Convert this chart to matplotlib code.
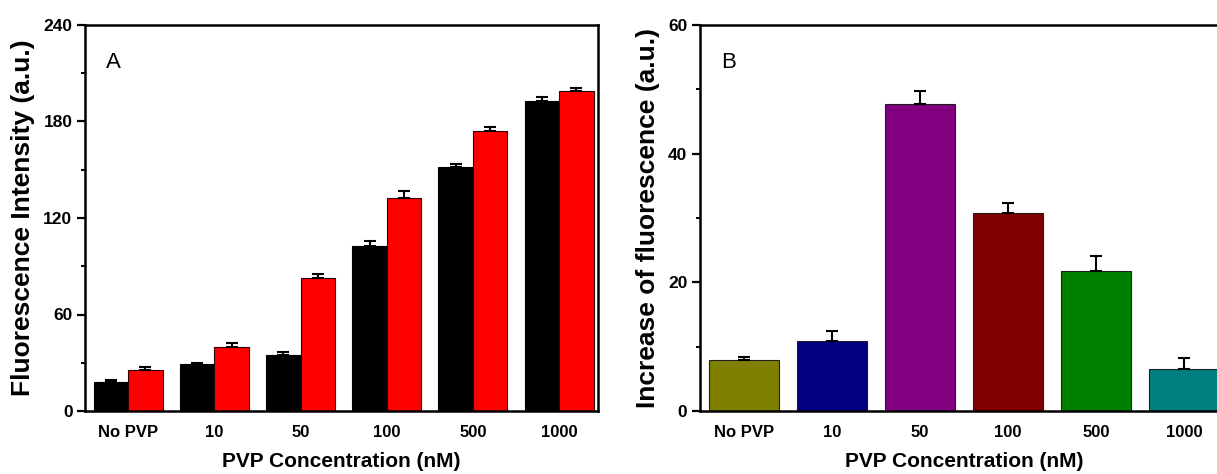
import numpy as np
import matplotlib.pyplot as plt
from matplotlib.ticker import MultipleLocator

plt.rcParams['font.family'] = ['Liberation Sans', 'DejaVu Sans']

# Data
categories = ['No PVP', '10', '50', '100', '500', '1000']

black_vals = [18, 29, 35, 102.5, 152, 192.5]
black_err = [1, 1, 1.5, 3.5, 1.5, 2.5]
red_vals = [25.5, 40, 82.5, 132.5, 174, 199]
red_err = [2, 2.3, 2.7, 4, 2.8, 2]

increase_vals = [7.9, 10.9, 47.7, 30.8, 21.8, 6.6]
increase_err = [0.5, 1.6, 2.0, 1.6, 2.3, 1.7]
increase_colors = ['#808000', '#000080', '#800080', '#800000', '#008000', '#008080']

W, H = 1217, 474
fig = plt.figure(figsize=(W / 100, H / 100), dpi=100)

def px_axes(left, right, top, bottom):
    return fig.add_axes([left / W, 1 - bottom / H, (right - left) / W, (bottom - top) / H])

def style(ax, xlabel, ylabel, letter):
    for s in ax.spines.values():
        s.set_linewidth(1.8)
    ax.tick_params(axis='y', which='major', direction='out', length=6, width=1.6, pad=3)
    ax.tick_params(axis='y', which='minor', direction='out', length=3, width=1.4)
    ax.tick_params(axis='x', length=0, pad=10)
    ax.set_xticks(x)
    ax.set_xticklabels(categories, fontsize=12, fontweight='bold')
    for lbl in ax.get_yticklabels():
        lbl.set_fontweight('bold')
        lbl.set_fontsize(12.5)
    ax.set_xlabel(xlabel, fontsize=15, fontweight='bold', labelpad=9)
    ax.set_ylabel(ylabel, fontsize=19, fontweight='bold', labelpad=6)
    ax.text(0.04, 0.93, letter, transform=ax.transAxes, fontsize=16, va='top')

x = np.arange(len(categories))

# Panel A
axA = px_axes(85, 598, 25, 411)
bw = 0.4
axA.bar(x - bw / 2, black_vals, bw, color='black', edgecolor='black', linewidth=0.8,
        yerr=[np.zeros(len(x)), black_err], capsize=4,
        error_kw=dict(ecolor='black', elinewidth=1.5, capthick=1.5))
axA.bar(x + bw / 2, red_vals, bw, color='#ff0000', edgecolor='#300000', linewidth=0.8,
        yerr=[np.zeros(len(x)), red_err], capsize=4,
        error_kw=dict(ecolor='black', elinewidth=1.5, capthick=1.5))
axA.set_xlim(-0.5, 5.45)
axA.set_ylim(0, 240)
axA.yaxis.set_major_locator(MultipleLocator(60))
axA.yaxis.set_minor_locator(MultipleLocator(30))
style(axA, 'PVP Concentration (nM)', 'Fluorescence Intensity (a.u.)', 'A')

# Panel B
axB = px_axes(700, 1228, 25, 411)
axB.bar(x, increase_vals, 0.8, color=increase_colors, edgecolor='#202020', linewidth=0.8,
        yerr=[np.zeros(len(x)), increase_err], capsize=4,
        error_kw=dict(ecolor='black', elinewidth=1.5, capthick=1.5))
axB.set_xlim(-0.5, 5.5)
axB.set_ylim(0, 60)
axB.yaxis.set_major_locator(MultipleLocator(20))
axB.yaxis.set_minor_locator(MultipleLocator(10))
style(axB, 'PVP Concentration (nM)', 'Increase of fluorescence (a.u.)', 'B')

fig.savefig('out.png', dpi=100)
